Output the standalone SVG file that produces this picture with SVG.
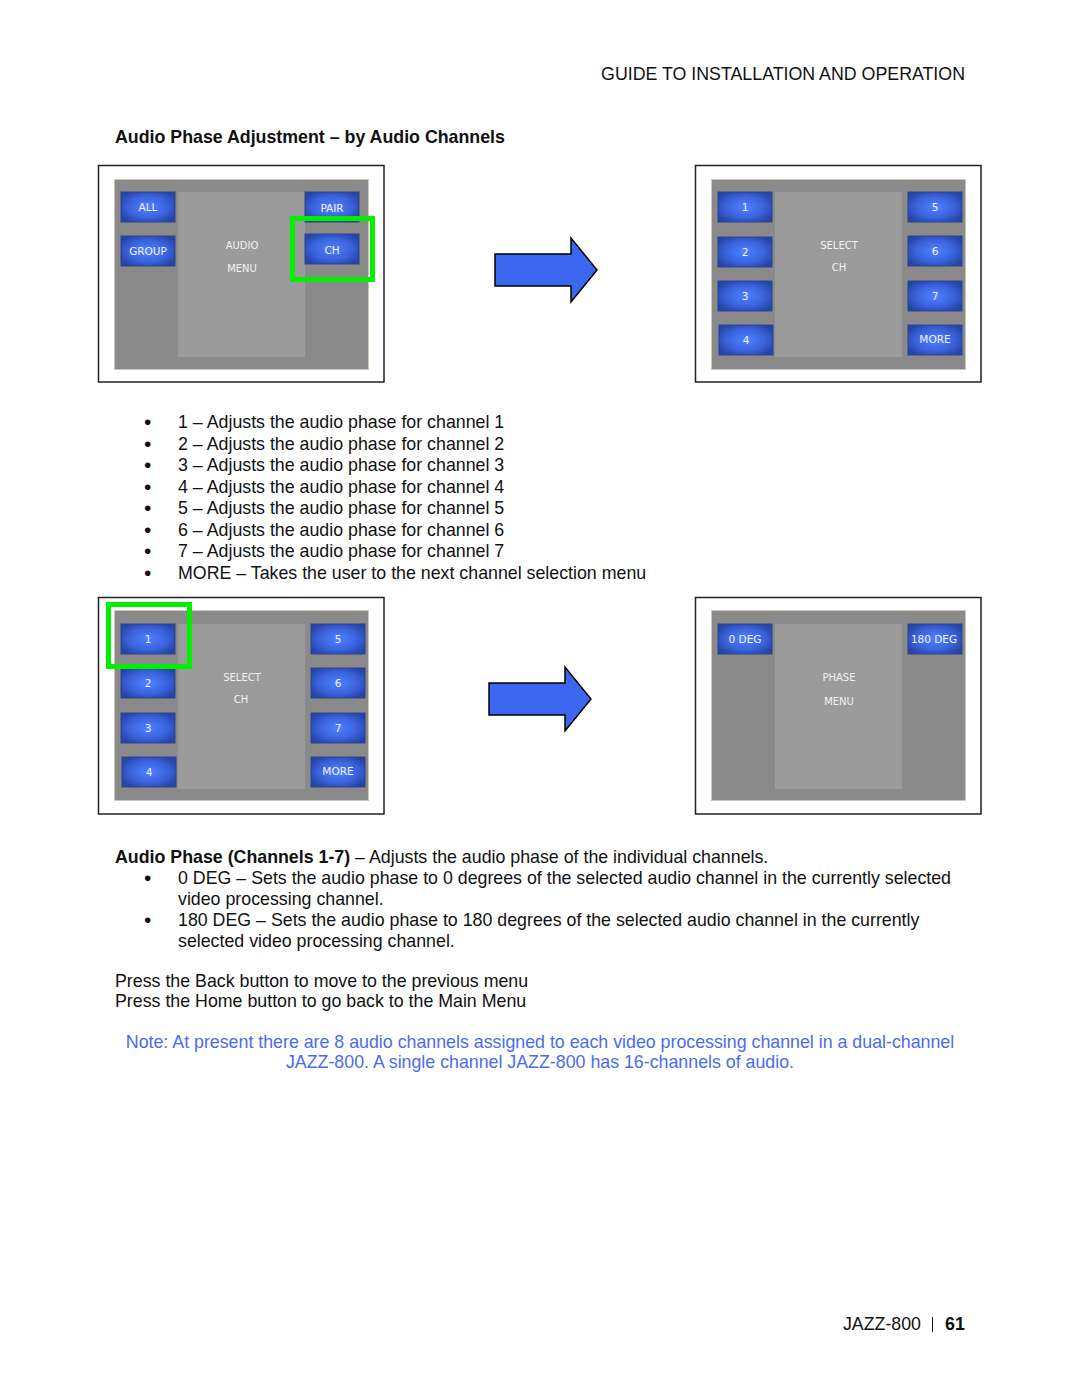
<svg xmlns="http://www.w3.org/2000/svg" width="1080" height="1397" viewBox="0 0 1080 1397">
<defs>
<radialGradient id="btn" cx="0.5" cy="0.5" r="0.6">
<stop offset="0" stop-color="#4f82ff"/>
<stop offset="0.6" stop-color="#3a62dc"/>
<stop offset="1" stop-color="#2744a6"/>
</radialGradient>
<style>
.t{font-family:"Liberation Sans",Arial,sans-serif;font-size:17.8px;fill:#111}
.b{font-weight:bold}
.dot{font-size:21px}
.note{font-family:"Liberation Sans",Arial,sans-serif;font-size:17.8px;fill:#4a6cf0}
.frame{fill:#fff;stroke:#222;stroke-width:1.5}
.scr{fill:#8a8a8a;stroke:#c9c9b8;stroke-width:1}
.inner{fill:#9b9b9b}
.btn{fill:url(#btn);stroke:#2a4590;stroke-width:1}
.bt{font-family:"DejaVu Sans",Verdana,sans-serif;font-size:10.5px;fill:#f2f3fa;text-anchor:middle}
.lt{font-family:"DejaVu Sans",Verdana,sans-serif;font-size:10px;fill:#f2f2f2;text-anchor:middle}
.hl{fill:none;stroke:#00f000;stroke-width:5}
.arrow{fill:#3a66f0;stroke:#000;stroke-width:1.5}
</style>
</defs>
<rect width="1080" height="1397" fill="#fff"/>

<text class="t" x="965" y="80" text-anchor="end">GUIDE TO INSTALLATION AND OPERATION</text>
<text class="t b" x="115" y="143">Audio Phase Adjustment – by Audio Channels</text>

<g id="panel-audio-menu">
<rect class="frame" x="98.5" y="165.5" width="285.5" height="216.5"/>
<rect class="scr" x="114.5" y="179.5" width="254" height="190"/>
<rect class="inner" x="178" y="192" width="127" height="165"/>
<text class="lt" x="242" y="249">AUDIO</text>
<text class="lt" x="242" y="272">MENU</text>
<rect class="btn" x="121" y="192" width="54" height="30"/><text class="bt" x="148" y="211">ALL</text>
<rect class="btn" x="121" y="236" width="54" height="30"/><text class="bt" x="148" y="255">GROUP</text>
<rect class="btn" x="305" y="192" width="54" height="30"/><text class="bt" x="332" y="212">PAIR</text>
<rect class="btn" x="305" y="234" width="54" height="30"/><text class="bt" x="332" y="254">CH</text>
<rect class="hl" x="292.5" y="218.5" width="80" height="61"/>
</g>

<g id="panel-select-ch-1">
<rect class="frame" x="695.5" y="165.5" width="285.5" height="216.5"/>
<rect class="scr" x="711.5" y="179.5" width="254" height="190"/>
<rect class="inner" x="775" y="192" width="127" height="165"/>
<text class="lt" x="839" y="249">SELECT</text>
<text class="lt" x="839" y="271">CH</text>
<rect class="btn" x="718" y="192" width="54" height="30"/><text class="bt" x="745" y="211">1</text>
<rect class="btn" x="718" y="237" width="54" height="30"/><text class="bt" x="745" y="256">2</text>
<rect class="btn" x="718" y="281" width="54" height="30"/><text class="bt" x="745" y="300">3</text>
<rect class="btn" x="719" y="325" width="54" height="30"/><text class="bt" x="746" y="344">4</text>
<rect class="btn" x="908" y="192" width="54" height="30"/><text class="bt" x="935" y="211">5</text>
<rect class="btn" x="908" y="236" width="54" height="30"/><text class="bt" x="935" y="255">6</text>
<rect class="btn" x="908" y="281" width="54" height="30"/><text class="bt" x="935" y="300">7</text>
<rect class="btn" x="908" y="325" width="54" height="30"/><text class="bt" x="935" y="343">MORE</text>
</g>

<g id="panel-select-ch-2">
<rect class="frame" x="98.5" y="597.5" width="285.5" height="216.5"/>
<rect class="scr" x="114.5" y="610.5" width="254" height="190"/>
<rect class="inner" x="178" y="624" width="127" height="165"/>
<text class="lt" x="242" y="681">SELECT</text>
<text class="lt" x="241" y="703">CH</text>
<rect class="btn" x="121" y="624" width="54" height="30"/><text class="bt" x="148" y="643">1</text>
<rect class="btn" x="121" y="668" width="54" height="30"/><text class="bt" x="148" y="687">2</text>
<rect class="btn" x="121" y="713" width="54" height="30"/><text class="bt" x="148" y="732">3</text>
<rect class="btn" x="122" y="757" width="54" height="30"/><text class="bt" x="149" y="776">4</text>
<rect class="btn" x="311" y="624" width="54" height="30"/><text class="bt" x="338" y="643">5</text>
<rect class="btn" x="311" y="668" width="54" height="30"/><text class="bt" x="338" y="687">6</text>
<rect class="btn" x="311" y="713" width="54" height="30"/><text class="bt" x="338" y="732">7</text>
<rect class="btn" x="311" y="757" width="54" height="30"/><text class="bt" x="338" y="775">MORE</text>
<rect class="hl" x="108.5" y="604.5" width="81" height="62"/>
</g>

<g id="panel-phase-menu">
<rect class="frame" x="695.5" y="597.5" width="285.5" height="216.5"/>
<rect class="scr" x="711.5" y="610.5" width="254" height="190"/>
<rect class="inner" x="775" y="624" width="127" height="165"/>
<text class="lt" x="839" y="681">PHASE</text>
<text class="lt" x="839" y="705">MENU</text>
<rect class="btn" x="718" y="624" width="54" height="30"/><text class="bt" x="745" y="643">0 DEG</text>
<rect class="btn" x="908" y="624" width="54" height="30"/><text class="bt" x="934" y="643">180 DEG</text>
</g>

<g id="connectors">
<polygon class="arrow" points="495,254 571,254 571,238 597,270 571,302 571,286 495,286"/>
<polygon class="arrow" points="489,683 565,683 565,667 591,699 565,731 565,715 489,715"/>
</g>

<g id="list1" class="t">
<text class="dot" x="144" y="429">•</text><text x="178" y="428">1 – Adjusts the audio phase for channel 1</text>
<text class="dot" x="144" y="450.5">•</text><text x="178" y="449.5">2 – Adjusts the audio phase for channel 2</text>
<text class="dot" x="144" y="472">•</text><text x="178" y="471">3 – Adjusts the audio phase for channel 3</text>
<text class="dot" x="144" y="493.5">•</text><text x="178" y="492.5">4 – Adjusts the audio phase for channel 4</text>
<text class="dot" x="144" y="515">•</text><text x="178" y="514">5 – Adjusts the audio phase for channel 5</text>
<text class="dot" x="144" y="536.5">•</text><text x="178" y="535.5">6 – Adjusts the audio phase for channel 6</text>
<text class="dot" x="144" y="558">•</text><text x="178" y="557">7 – Adjusts the audio phase for channel 7</text>
<text class="dot" x="144" y="579.5">•</text><text x="178" y="578.5">MORE – Takes the user to the next channel selection menu</text>
</g>

<g id="text2" class="t">
<text x="115" y="863"><tspan class="b">Audio Phase (Channels 1-7)</tspan> – Adjusts the audio phase of the individual channels.</text>
<text class="dot" x="144" y="885">•</text><text x="178" y="884">0 DEG – Sets the audio phase to 0 degrees of the selected audio channel in the currently selected</text>
<text x="178" y="905">video processing channel.</text>
<text class="dot" x="144" y="927">•</text><text x="178" y="926">180 DEG – Sets the audio phase to 180 degrees of the selected audio channel in the currently</text>
<text x="178" y="947">selected video processing channel.</text>
<text x="115" y="987">Press the Back button to move to the previous menu</text>
<text x="115" y="1007">Press the Home button to go back to the Main Menu</text>
</g>
<text class="note" x="540" y="1048" text-anchor="middle">Note: At present there are 8 audio channels assigned to each video processing channel in a dual-channel</text>
<text class="note" x="540" y="1068" text-anchor="middle">JAZZ-800. A single channel JAZZ-800 has 16-channels of audio.</text>

<text class="t" x="921" y="1330" text-anchor="end">JAZZ-800</text>
<line x1="932.5" y1="1317" x2="932.5" y2="1332" stroke="#111" stroke-width="1"/>
<text class="t b" x="945" y="1330">61</text>
</svg>
